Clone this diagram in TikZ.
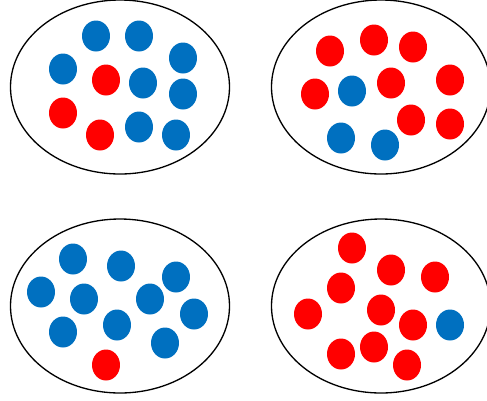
\documentclass[tikz,border=0pt]{standalone}
\usepackage{xcolor}
\usepackage{tikz}
\usetikzlibrary{shapes.geometric}

\definecolor{dotblue}{HTML}{0070C0}
\definecolor{dotred}{HTML}{FF0000}

\begin{document}
\begin{tikzpicture}[x=0.02cm, y=-0.02cm,
    bdot/.style={ellipse, fill=dotblue, inner sep=0pt, minimum width=0.56cm, minimum height=0.62cm},
    rdot/.style={ellipse, fill=dotred, inner sep=0pt, minimum width=0.56cm, minimum height=0.62cm}]
    \useasboundingbox (0,0) rectangle (487,400);
    \clip (0,0) rectangle (487,400);
    % the four sets
    \foreach \c in {(120,87), (381,87), (120,306), (381,306)} {
        \draw[line width=0.75pt] \c ellipse (109.5 and 87);
    }
    % top left
    \foreach \p [count=\i] in {(96,36), (139,36), (63,69), (183,58), (143,83), (183,94), (139,127), (176,135)}
        \node[bdot] (tlb\i) at \p {};
    \foreach \p [count=\i] in {(106,80), (63,113), (100,135)}
        \node[rdot] (tlr\i) at \p {};
    % top right
    \foreach \p [count=\i] in {(330,51), (374,40), (413,47), (450,80), (315,94), (391,83), (411,120), (450,124)}
        \node[rdot] (trr\i) at \p {};
    \foreach \p [count=\i] in {(352,91), (341,138), (385,145)}
        \node[bdot] (trb\i) at \p {};
    % bottom left
    \foreach \p [count=\i] in {(73,259), (121,266), (176,277), (41,292), (84,299), (150,299), (194,314), (63,332), (117,325), (165,343)}
        \node[bdot] (blb\i) at \p {};
    \node[rdot] (blr1) at (106,365) {};
    % bottom right
    \foreach \p [count=\i] in {(352,248), (391,270), (435,277), (341,288), (308,314), (381,310), (413,325), (341,354), (374,347), (407,365)}
        \node[rdot] (brr\i) at \p {};
    \node[bdot] (brb1) at (450,325) {};
\end{tikzpicture}
\end{document}
